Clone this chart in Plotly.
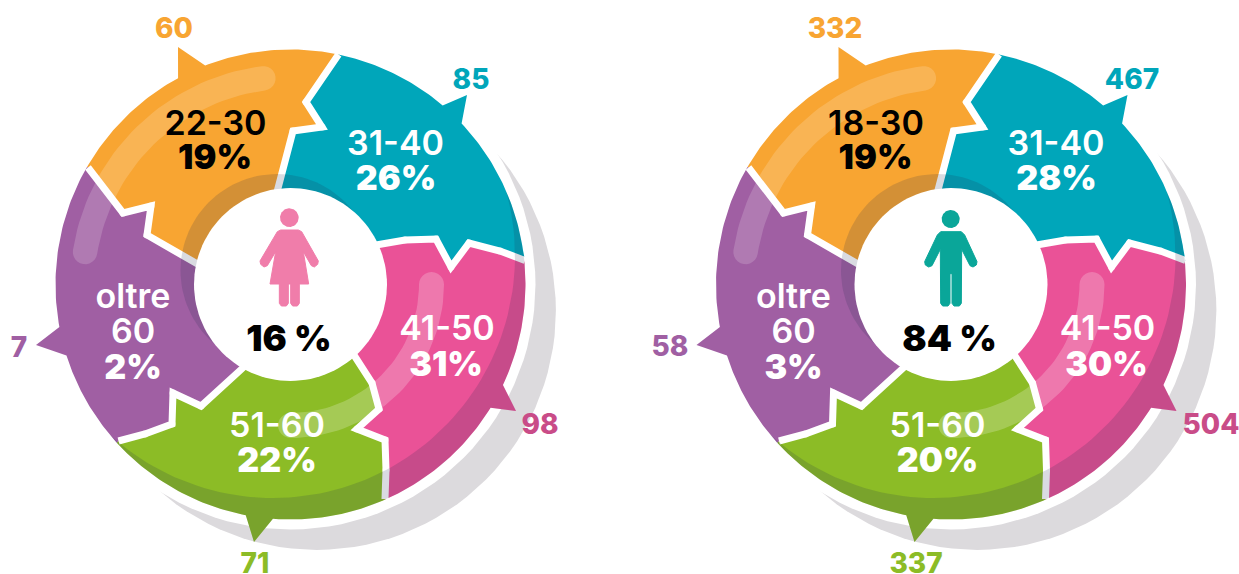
import math
import plotly.graph_objects as go

# ---- data ----
female_ages = ["22-30", "31-40", "41-50", "51-60", "oltre", "60"]
female_pct = ["19%", "26%", "31%", "22%", "2%"]
female_counts = ["60", "85", "98", "71", "7"]
female_total = "16 %"
male_ages = ["18-30", "31-40", "41-50", "51-60", "oltre", "60"]
male_pct = ["19%", "28%", "30%", "20%", "3%"]
male_counts = ["332", "467", "504", "337", "58"]
male_total = "84 %"

# ---- styling / geometry ----
FILLS = ["#F8A532", "#00A6BA", "#EA5297", "#8CBC26", "#A05FA3"]
TEXT_COL = ["#000000", "#FFFFFF", "#FFFFFF", "#FFFFFF", "#FFFFFF", "#FFFFFF"]
COUNT_COL = ["#F8A532", "#00A6BA", "#C94C88", "#8CBC26", "#A05FA3"]
DARK = "rgba(30,40,80,0.17)"
SHADOW = "#DCDADD"
CX, CY, R, RI = 290.5, 284.5, 235.0, 96.5
DX = 660.5
TEXT_DY = 3.5

BOUNDS = [
    [(277, 192), (293, 131), (322, 127), (306, 102), (338.5, 54.5)],
    [(376, 245), (405, 240), (436, 239), (451, 267), (469, 243), (500, 251), (525, 260.5)],
    [(352, 352), (372, 383), (379, 409), (357, 429), (385, 440), (386, 470), (385, 499)],
    [(246, 365), (201, 406), (173, 393), (172, 424), (145, 434), (118.5, 441)],
    [(201, 266), (147, 235), (151, 206), (123, 213), (88, 167.5)],
]
TIPS = [
    [(178, 78), (178, 47), (205, 65)],
    [(443, 105), (467, 95), (462, 123)],
    [(503, 385), (516, 411), (491, 408)],
    [(273, 518), (254, 542), (246, 514)],
    [(68, 355), (36, 345), (60, 327)],
]
AGE_POS = [(215.5, 123), (395.5, 143), (447, 328), (277, 425), (133, 296), (133, 331)]
PCT_POS = [(215, 157), (396, 178), (446, 364), (277, 460), (133, 367)]
COUNT_POS_F = [(174, 27), (471, 78), (540, 423), (255, 562), (19, 346)]
COUNT_POS_M = [(835, 27), (1132, 78), (1211, 423), (916, 562), (670, 345)]
TOTAL_POS = (289, 338)

FEMALE_ICON = [(262, 155), (272, 150), (325, 150), (335, 155), (385, 243), (383, 253), (373, 261), (364, 257),
               (340, 215), (356, 312), (328, 312), (328, 370), (322, 378), (308, 378), (302, 370), (302, 312),
               (295, 312), (295, 370), (289, 378), (274, 378), (268, 370), (268, 312), (240, 312), (257, 215),
               (232, 257), (222, 261), (212, 253), (210, 243)]
FEMALE_HEAD = (298, 113, 28)
MALE_ICON = [(262, 165), (272, 155), (334, 155), (344, 165), (381, 245), (379, 255), (369, 261), (360, 257),
             (335, 208), (334, 370), (328, 378), (312, 378), (306, 370), (306, 281), (300, 281), (300, 370),
             (294, 378), (278, 378), (272, 370), (271, 208), (246, 257), (236, 261), (226, 255), (224, 245)]
MALE_HEAD = (302, 117, 27)


def ang(p):
    return math.atan2(p[1] - CY, p[0] - CX)


def arc(a, b, r=R, cx=CX, cy=CY, n=40):
    while b < a:
        b += 2 * math.pi
    return [(cx + r * math.cos(a + (b - a) * i / n), cy + r * math.sin(a + (b - a) * i / n)) for i in range(n + 1)]


def disc(cx, cy, r):
    return arc(0, 2 * math.pi - 1e-6, r, cx, cy, 120)


def sector(i):
    start = BOUNDS[(i + 4) % 5]
    end = BOUNDS[i]
    b1, tip, b2 = TIPS[i]
    return (start + arc(ang(start[-1]), ang(b1)) + [tip]
            + arc(ang(b2), ang(end[-1])) + end[::-1])


def band(a, b, r, w):
    """Arc stroke with round caps as a polygon (angles in screen degrees, a<b)."""
    a, b = math.radians(a), math.radians(b)
    pts = arc(a, b, r + w / 2)
    ex, ey = CX + r * math.cos(b), CY + r * math.sin(b)
    pts += [(ex + w / 2 * math.cos(b + t * math.pi / 12), ey + w / 2 * math.sin(b + t * math.pi / 12)) for t in range(13)]
    pts += arc(a, b, r - w / 2)[::-1]
    sx, sy = CX + r * math.cos(a), CY + r * math.sin(a)
    pts += [(sx + w / 2 * math.cos(a + math.pi + t * math.pi / 12), sy + w / 2 * math.sin(a + math.pi + t * math.pi / 12)) for t in range(13)]
    return pts


def outer_crescent():
    c = (273.0, 256.0)
    rho = 242.0
    d = math.hypot(CX - c[0], CY - c[1])
    u = math.atan2(CY - c[1], CX - c[0])
    half = math.acos((rho * rho - R * R - d * d) / (2 * R * d))
    a0, a1 = u - half, u + half
    pts = []
    pts += arc(a0, ang(TIPS[2][0]))
    pts += [TIPS[2][1]]
    pts += arc(ang(TIPS[2][2]), ang(TIPS[3][0]))
    pts += [TIPS[3][1]]
    pts += arc(ang(TIPS[3][2]), a1)
    pe, ps = pts[-1], pts[0]
    ae = math.atan2(pe[1] - c[1], pe[0] - c[0])
    as_ = math.atan2(ps[1] - c[1], ps[0] - c[0])
    pts += arc(as_, ae, rho, c[0], c[1], 80)[::-1]
    return pts


fig = go.Figure()


def poly(pts, color, dx, stroke=0):
    fig.add_trace(go.Scatter(
        x=[p[0] + dx for p in pts] + [pts[0][0] + dx],
        y=[p[1] for p in pts] + [pts[0][1]],
        mode="lines", fill="toself", fillcolor=color,
        line=dict(width=stroke, color=color), hoverinfo="skip", showlegend=False))


def texts(pos, dx, labels, colors, size, weight):
    fig.add_trace(go.Scatter(
        x=[p[0] + dx for p in pos], y=[p[1] + TEXT_DY for p in pos],
        text=labels, mode="text", textposition="middle center",
        textfont=dict(family="Inter", size=size, color=colors, weight=weight),
        hoverinfo="skip", showlegend=False))


def icon(outline, head, color, ox, oy):
    o = [(ox + x / 3, oy + y / 3) for x, y in outline]
    poly(o, color, 0, 1)
    poly(disc(ox + head[0] / 3, oy + head[1] / 3, head[2] / 3), color, 0)


def donut(dx, ages, pct, counts, total, count_pos, icon_outline, icon_head, icon_color, icon_ox):
    poly(disc(316.7, 310.7, 239.2), SHADOW, dx)
    poly(disc(CX, CY, R + 10), "#FFFFFF", dx)
    for i in range(5):
        poly(sector(i), FILLS[i], dx)
    for b in BOUNDS:
        fig.add_trace(go.Scatter(
            x=[p[0] + dx for p in b], y=[p[1] for p in b], mode="lines+markers",
            line=dict(color="#FFFFFF", width=7),
            marker=dict(color="#FFFFFF", size=[0] + [7] * (len(b) - 2) + [0], line=dict(width=0)),
            hoverinfo="skip", showlegend=False))
    poly(band(189, 262.5, 208, 24.5), "rgba(255,255,255,0.17)", dx)
    poly(band(0, 90, 141, 25), "rgba(255,255,255,0.22)", dx)
    poly(outer_crescent(), DARK, dx)
    poly(disc(277, 270.5, 96.5), DARK, dx)
    poly(disc(CX, CY, RI), "#FFFFFF", dx)
    icon(icon_outline, icon_head, icon_color, icon_ox, 180)
    texts(AGE_POS, dx, ages, TEXT_COL, 34, 600)
    texts(PCT_POS, dx, pct, TEXT_COL, 34, 900)
    texts(count_pos, 0, counts, COUNT_COL, 28, 800)
    texts([TOTAL_POS], dx, [total], ["#000000"], 36, 900)


donut(0, female_ages, female_pct, female_counts, female_total, COUNT_POS_F,
      FEMALE_ICON, FEMALE_HEAD, "#F07DAA", 190)
donut(DX, male_ages, male_pct, male_counts, male_total, COUNT_POS_M,
      MALE_ICON, MALE_HEAD, "#0AA699", 850)

fig.update_layout(
    width=1239, height=574, margin=dict(l=0, r=0, t=0, b=0),
    paper_bgcolor="#FFFFFF", plot_bgcolor="#FFFFFF", showlegend=False,
    xaxis=dict(range=[0, 1239], visible=False, fixedrange=True),
    yaxis=dict(range=[574, 0], visible=False, fixedrange=True),
)
fig.write_html("out.html", config=dict(displayModeBar=False),
               post_script="document.body.style.margin='0';document.body.style.overflow='hidden';")
